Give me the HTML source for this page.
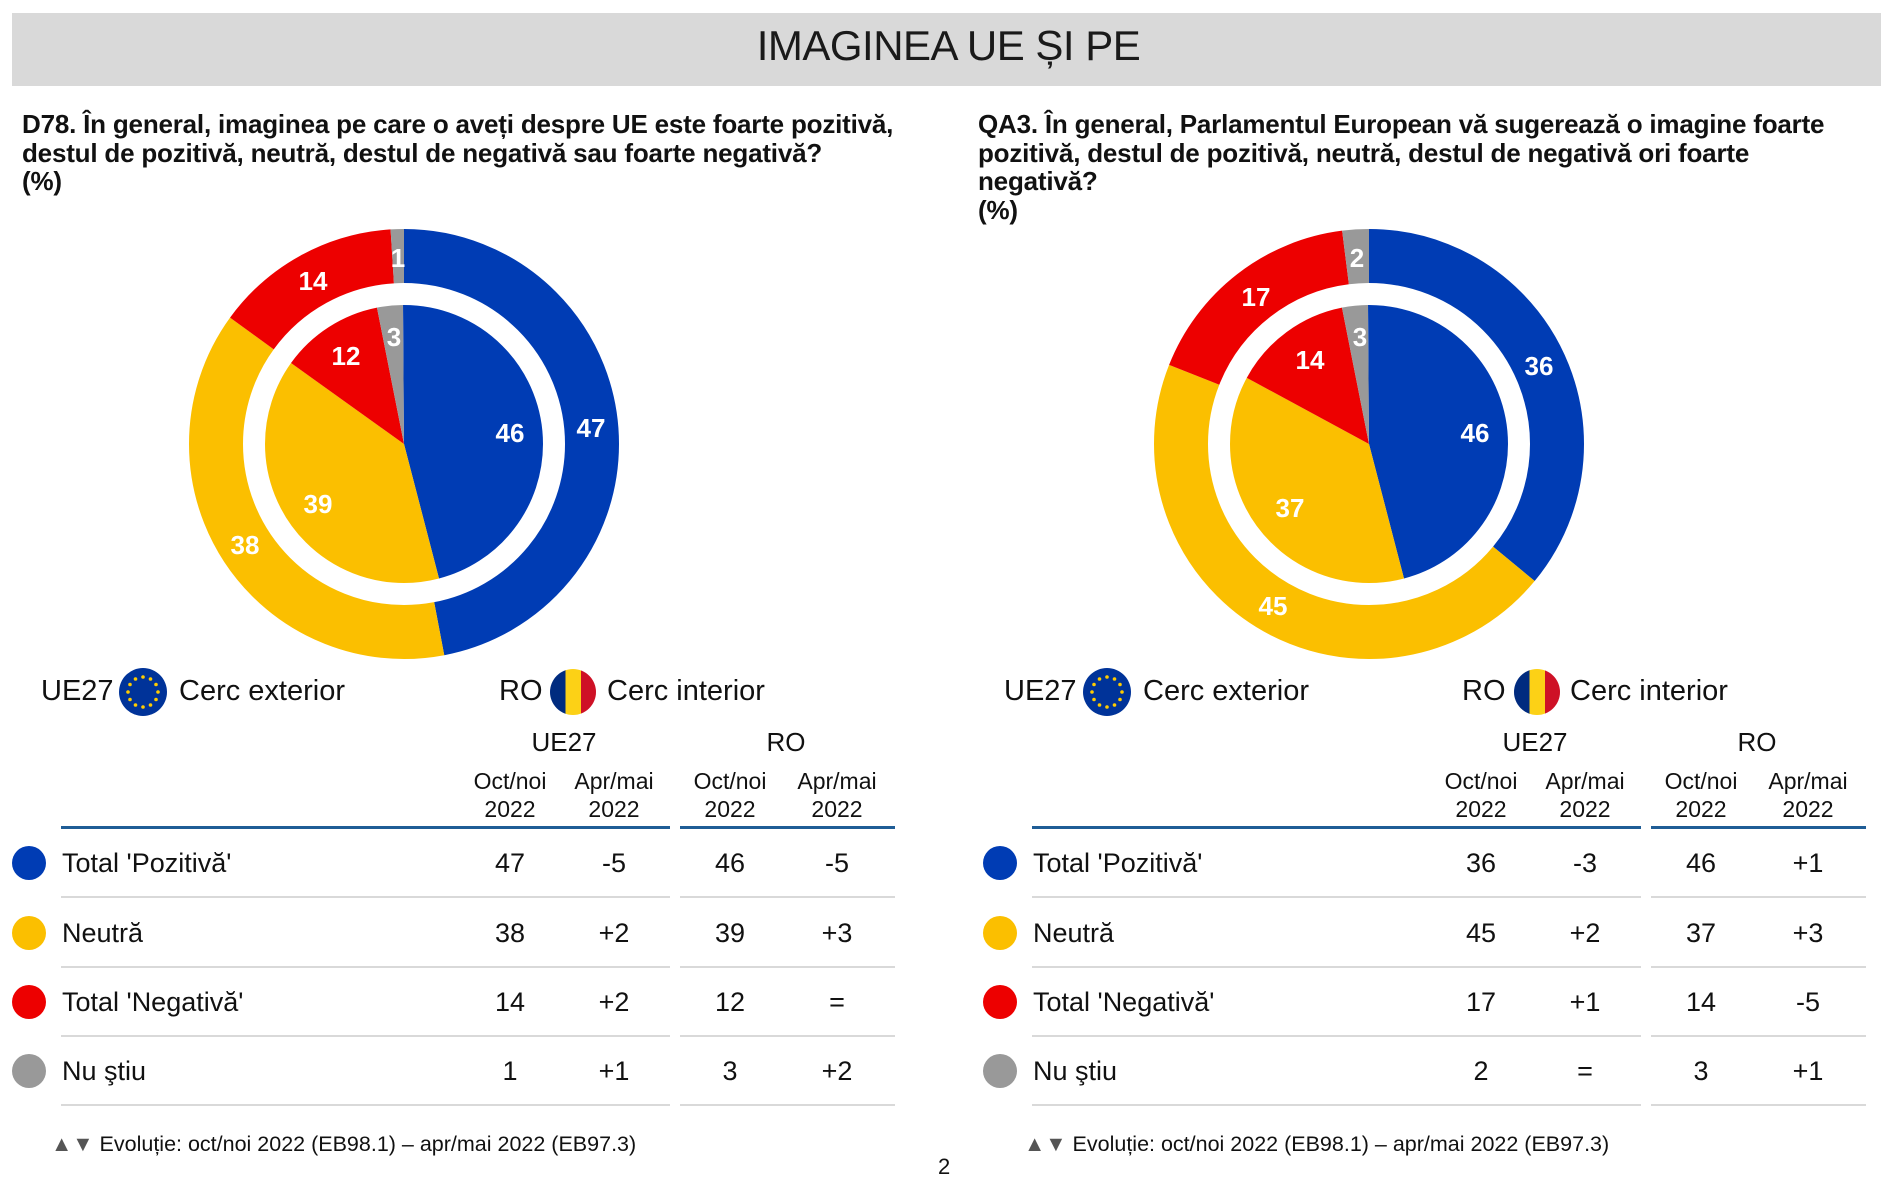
<!DOCTYPE html>
<html><head><meta charset="utf-8">
<style>
body{margin:0;width:1897px;height:1183px;background:#fff;font-family:"Liberation Sans",sans-serif;position:relative;overflow:hidden;color:#111}
.a{position:absolute;white-space:nowrap}
.band{left:12px;top:13px;width:1869px;height:73px;background:#d9d9d9}
.title{left:0;width:1897px;top:22px;text-align:center;font-size:42px;letter-spacing:-0.5px;color:#1a1a1a}
.q{font-weight:bold;font-size:26px;line-height:28.5px;letter-spacing:-0.2px}
.leg{font-size:29px;top:672px;line-height:38px}
.ch{font-size:26px;text-align:center;width:120px;margin-left:-60px}
.sh{font-size:23px;text-align:center;width:110px;margin-left:-55px;line-height:28px}
.row{font-size:27px;line-height:34px}
.num{font-size:27px;text-align:center;width:100px;margin-left:-50px;line-height:34px}
.hl{height:3px;background:#1f5d96}
.gl{height:2px;background:#d9d9d9}
.dot{width:34px;height:34px;border-radius:50%}
.foot{font-size:21.5px;top:1132px}
</style></head><body>
<div class="a band"></div>
<div class="a title">IMAGINEA UE ȘI PE</div>

<div class="a q" style="left:22px;top:110px">D78. În general, imaginea pe care o aveți despre UE este foarte pozitivă,<br>destul de pozitivă, neutră, destul de negativă sau foarte negativă?<br>(%)</div>
<div class="a q" style="left:978px;top:110px">QA3. În general, Parlamentul European vă sugerează o imagine foarte<br>pozitivă, destul de pozitivă, neutră, destul de negativă ori foarte<br>negativă?<br>(%)</div>

<svg class="a" style="left:0;top:0" width="1897" height="1183">
<g transform="translate(404,444) rotate(-90)" fill="none">
<circle r="188" stroke-width="54" stroke="#003cb4" pathLength="100" stroke-dasharray="47 53"/>
<circle r="188" stroke-width="54" stroke="#fbbf00" pathLength="100" stroke-dasharray="38 62" stroke-dashoffset="-47"/>
<circle r="188" stroke-width="54" stroke="#ed0000" pathLength="100" stroke-dasharray="14 86" stroke-dashoffset="-85"/>
<circle r="188" stroke-width="54" stroke="#999" pathLength="100" stroke-dasharray="1 99" stroke-dashoffset="-99"/>
<circle r="69.5" stroke-width="139" stroke="#003cb4" pathLength="100" stroke-dasharray="46 54"/>
<circle r="69.5" stroke-width="139" stroke="#fbbf00" pathLength="100" stroke-dasharray="39 61" stroke-dashoffset="-46"/>
<circle r="69.5" stroke-width="139" stroke="#ed0000" pathLength="100" stroke-dasharray="12 88" stroke-dashoffset="-85"/>
<circle r="69.5" stroke-width="139" stroke="#999" pathLength="100" stroke-dasharray="3 97" stroke-dashoffset="-97"/>
</g>
<g transform="translate(1369,444) rotate(-90)" fill="none">
<circle r="188" stroke-width="54" stroke="#003cb4" pathLength="100" stroke-dasharray="36 64"/>
<circle r="188" stroke-width="54" stroke="#fbbf00" pathLength="100" stroke-dasharray="45 55" stroke-dashoffset="-36"/>
<circle r="188" stroke-width="54" stroke="#ed0000" pathLength="100" stroke-dasharray="17 83" stroke-dashoffset="-81"/>
<circle r="188" stroke-width="54" stroke="#999" pathLength="100" stroke-dasharray="2 98" stroke-dashoffset="-98"/>
<circle r="69.5" stroke-width="139" stroke="#003cb4" pathLength="100" stroke-dasharray="46 54"/>
<circle r="69.5" stroke-width="139" stroke="#fbbf00" pathLength="100" stroke-dasharray="37 63" stroke-dashoffset="-46"/>
<circle r="69.5" stroke-width="139" stroke="#ed0000" pathLength="100" stroke-dasharray="14 86" stroke-dashoffset="-83"/>
<circle r="69.5" stroke-width="139" stroke="#999" pathLength="100" stroke-dasharray="3 97" stroke-dashoffset="-97"/>
</g>
<g font-family="Liberation Sans,sans-serif" font-weight="bold" font-size="26" fill="#fff" text-anchor="middle" dominant-baseline="central">
<text x="591" y="428">47</text><text x="245" y="545">38</text><text x="313" y="281">14</text><text x="398" y="258">1</text>
<text x="510" y="433">46</text><text x="318" y="504">39</text><text x="346" y="356">12</text><text x="394" y="337">3</text>
<text x="1539" y="366">36</text><text x="1273" y="606">45</text><text x="1256" y="297">17</text><text x="1357" y="258">2</text>
<text x="1475" y="433">46</text><text x="1290" y="508">37</text><text x="1310" y="360">14</text><text x="1360" y="337">3</text>
</g>
<g id="eu1" transform="translate(143,692)">
<circle r="24" fill="#003399"/>
<g fill="#ffcc00"><circle cx="0" cy="-15" r="1.8"/><circle cx="7.5" cy="-13" r="1.8"/><circle cx="13" cy="-7.5" r="1.8"/><circle cx="15" cy="0" r="1.8"/><circle cx="13" cy="7.5" r="1.8"/><circle cx="7.5" cy="13" r="1.8"/><circle cx="0" cy="15" r="1.8"/><circle cx="-7.5" cy="13" r="1.8"/><circle cx="-13" cy="7.5" r="1.8"/><circle cx="-15" cy="0" r="1.8"/><circle cx="-13" cy="-7.5" r="1.8"/><circle cx="-7.5" cy="-13" r="1.8"/></g>
</g>
<use href="#eu1" x="964" y="0"/>
<defs><clipPath id="rc"><circle r="23"/></clipPath></defs>
<g id="ro1" transform="translate(573,692)" clip-path="url(#rc)">
<rect x="-23" y="-23" width="16" height="46" fill="#002b7f"/><rect x="-7.5" y="-23" width="15.5" height="46" fill="#fcd116"/><rect x="8" y="-23" width="16" height="46" fill="#ce1126"/>
</g>
<use href="#ro1" x="964" y="0"/>
</svg>

<div class="a leg" style="left:41px">UE27</div>
<div class="a leg" style="left:179px">Cerc exterior</div>
<div class="a leg" style="left:499px">RO</div>
<div class="a leg" style="left:607px">Cerc interior</div>
<div class="a leg" style="left:1004px">UE27</div>
<div class="a leg" style="left:1143px">Cerc exterior</div>
<div class="a leg" style="left:1462px">RO</div>
<div class="a leg" style="left:1570px">Cerc interior</div>

<div class="a ch" style="left:564px;top:727px">UE27</div>
<div class="a ch" style="left:786px;top:727px">RO</div>
<div class="a sh" style="left:510px;top:767px">Oct/noi<br>2022</div>
<div class="a sh" style="left:614px;top:767px">Apr/mai<br>2022</div>
<div class="a sh" style="left:730px;top:767px">Oct/noi<br>2022</div>
<div class="a sh" style="left:837px;top:767px">Apr/mai<br>2022</div>
<div class="a hl" style="left:61px;top:826px;width:609px"></div>
<div class="a hl" style="left:680px;top:826px;width:215px"></div>

<div class="a ch" style="left:1535px;top:727px">UE27</div>
<div class="a ch" style="left:1757px;top:727px">RO</div>
<div class="a sh" style="left:1481px;top:767px">Oct/noi<br>2022</div>
<div class="a sh" style="left:1585px;top:767px">Apr/mai<br>2022</div>
<div class="a sh" style="left:1701px;top:767px">Oct/noi<br>2022</div>
<div class="a sh" style="left:1808px;top:767px">Apr/mai<br>2022</div>
<div class="a hl" style="left:1032px;top:826px;width:609px"></div>
<div class="a hl" style="left:1651px;top:826px;width:215px"></div>

<div class="a dot" style="left:12px;top:846px;background:#003cb4"></div>
<div class="a dot" style="left:12px;top:916px;background:#fbbf00"></div>
<div class="a dot" style="left:12px;top:985px;background:#ed0000"></div>
<div class="a dot" style="left:12px;top:1054px;background:#999"></div>
<div class="a row" style="left:62px;top:846px">Total 'Pozitivă'</div>
<div class="a row" style="left:62px;top:916px">Neutră</div>
<div class="a row" style="left:62px;top:985px">Total 'Negativă'</div>
<div class="a row" style="left:62px;top:1054px">Nu ştiu</div>
<div class="a num" style="left:510px;top:846px">47</div><div class="a num" style="left:614px;top:846px">-5</div><div class="a num" style="left:730px;top:846px">46</div><div class="a num" style="left:837px;top:846px">-5</div>
<div class="a num" style="left:510px;top:916px">38</div><div class="a num" style="left:614px;top:916px">+2</div><div class="a num" style="left:730px;top:916px">39</div><div class="a num" style="left:837px;top:916px">+3</div>
<div class="a num" style="left:510px;top:985px">14</div><div class="a num" style="left:614px;top:985px">+2</div><div class="a num" style="left:730px;top:985px">12</div><div class="a num" style="left:837px;top:985px">=</div>
<div class="a num" style="left:510px;top:1054px">1</div><div class="a num" style="left:614px;top:1054px">+1</div><div class="a num" style="left:730px;top:1054px">3</div><div class="a num" style="left:837px;top:1054px">+2</div>
<div class="a gl" style="left:61px;top:896px;width:609px"></div><div class="a gl" style="left:680px;top:896px;width:215px"></div>
<div class="a gl" style="left:61px;top:966px;width:609px"></div><div class="a gl" style="left:680px;top:966px;width:215px"></div>
<div class="a gl" style="left:61px;top:1035px;width:609px"></div><div class="a gl" style="left:680px;top:1035px;width:215px"></div>
<div class="a gl" style="left:61px;top:1104px;width:609px"></div><div class="a gl" style="left:680px;top:1104px;width:215px"></div>

<div class="a dot" style="left:983px;top:846px;background:#003cb4"></div>
<div class="a dot" style="left:983px;top:916px;background:#fbbf00"></div>
<div class="a dot" style="left:983px;top:985px;background:#ed0000"></div>
<div class="a dot" style="left:983px;top:1054px;background:#999"></div>
<div class="a row" style="left:1033px;top:846px">Total 'Pozitivă'</div>
<div class="a row" style="left:1033px;top:916px">Neutră</div>
<div class="a row" style="left:1033px;top:985px">Total 'Negativă'</div>
<div class="a row" style="left:1033px;top:1054px">Nu ştiu</div>
<div class="a num" style="left:1481px;top:846px">36</div><div class="a num" style="left:1585px;top:846px">-3</div><div class="a num" style="left:1701px;top:846px">46</div><div class="a num" style="left:1808px;top:846px">+1</div>
<div class="a num" style="left:1481px;top:916px">45</div><div class="a num" style="left:1585px;top:916px">+2</div><div class="a num" style="left:1701px;top:916px">37</div><div class="a num" style="left:1808px;top:916px">+3</div>
<div class="a num" style="left:1481px;top:985px">17</div><div class="a num" style="left:1585px;top:985px">+1</div><div class="a num" style="left:1701px;top:985px">14</div><div class="a num" style="left:1808px;top:985px">-5</div>
<div class="a num" style="left:1481px;top:1054px">2</div><div class="a num" style="left:1585px;top:1054px">=</div><div class="a num" style="left:1701px;top:1054px">3</div><div class="a num" style="left:1808px;top:1054px">+1</div>
<div class="a gl" style="left:1032px;top:896px;width:609px"></div><div class="a gl" style="left:1651px;top:896px;width:215px"></div>
<div class="a gl" style="left:1032px;top:966px;width:609px"></div><div class="a gl" style="left:1651px;top:966px;width:215px"></div>
<div class="a gl" style="left:1032px;top:1035px;width:609px"></div><div class="a gl" style="left:1651px;top:1035px;width:215px"></div>
<div class="a gl" style="left:1032px;top:1104px;width:609px"></div><div class="a gl" style="left:1651px;top:1104px;width:215px"></div>

<div class="a foot" style="left:51px"><span style="color:#555">▲▼</span> Evoluție: oct/noi 2022 (EB98.1) – apr/mai 2022 (EB97.3)</div>
<div class="a foot" style="left:1024px"><span style="color:#555">▲▼</span> Evoluție: oct/noi 2022 (EB98.1) – apr/mai 2022 (EB97.3)</div>
<div class="a" style="left:938px;top:1154px;font-size:22px">2</div>
</body></html>
